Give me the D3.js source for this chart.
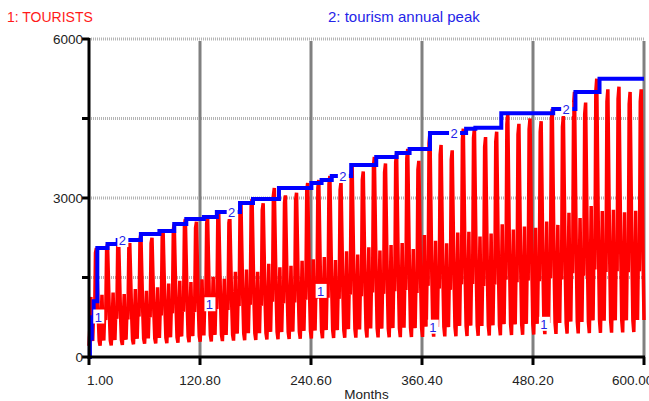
<!DOCTYPE html>
<html>
<head>
<meta charset="utf-8">
<script src="https://cdn.jsdelivr.net/npm/d3@7"></script>
<style>
  body { margin: 0; background: #fff; }
  svg { display: block; font-family: "Liberation Sans", Arial, sans-serif; }
</style>
</head>
<body>
<svg id="chart" width="649" height="401"></svg>
<script>
// annual peak of TOURISTS per year (50 years of 12 months)
const redPeak = [2057, 2132, 2208, 2150, 2320, 2250, 2377, 2509, 2604, 2550,
  2642, 2736, 2650, 2906, 2981, 2900, 3189, 3050, 3100, 3283,
  3340, 3415, 3300, 3623, 3500, 3774, 3650, 3849, 3925, 3700,
  4226, 4000, 3900, 4308, 4326, 4150, 4250, 4598, 4400, 4500,
  4450, 4679, 4550, 5000, 4800, 5251, 5050, 5100, 5000, 5050];
// off-season floor per year
const redMin = [210, 215, 220, 230, 240, 250, 255, 260, 270, 280,
  290, 295, 300, 310, 315, 320, 330, 335, 340, 345,
  350, 355, 360, 362, 365, 368, 370, 372, 375, 378,
  380, 385, 388, 390, 395, 400, 405, 410, 415, 420,
  425, 430, 435, 440, 445, 450, 455, 460, 465, 470];
// share of the year's swing reached in each month
const season = [0.0, 0.2, 0.5, 0.15, 0.05, 0.35, 0.25, 0.95, 1.0, 0.65, 0.3, 0.05];

// tourism annual peak (step line)
const peakMonths = [1, 2, 4, 6, 10, 21, 32, 57, 77, 93, 106, 125, 139, 164, 178, 206,
  241, 252, 263, 284, 311, 333, 347, 369, 408, 418, 446, 502, 526, 552, 600];
const peakLevels = [0, 350, 750, 1050, 2057, 2132, 2208, 2320, 2377, 2509, 2604, 2642, 2736, 2906, 2981, 3189,
  3283, 3340, 3415, 3623, 3774, 3849, 3925, 4226, 4308, 4326, 4598, 4679, 5000, 5251, 5251];

const xTicks = [1, 120.8, 240.6, 360.4, 480.2, 600];
const yGrid = [1500, 3000, 4500, 6000];
const yLabels = [0, 3000, 6000];
const label1Months = [11, 131, 251, 372, 492];
const label2Months = [37, 155, 275, 395, 516];

const svg = d3.select('#chart');
const x = d3.scaleLinear().domain([1, 600]).range([89, 644]);
const y = d3.scaleLinear().domain([0, 6000]).range([357, 39]);

const tourists = d3.range(1, 601).map(m => {
  const k = Math.floor((m - 1) / 12), i = (m - 1) % 12;
  return { m, v: redMin[k] + (redPeak[k] - redMin[k]) * season[i] };
});
const peaks = peakMonths.map((m, i) => ({ m, v: peakLevels[i] }));

// grid
svg.append('g').selectAll('line')
  .data(yGrid)
  .join('line')
  .attr('x1', x(1)).attr('x2', x(600))
  .attr('y1', d => y(d)).attr('y2', d => y(d))
  .attr('stroke', '#b4b4b4')
  .attr('stroke-width', 3)
  .attr('stroke-dasharray', '1,1');

svg.append('g').selectAll('line')
  .data(xTicks.slice(1))
  .join('line')
  .attr('x1', d => x(d)).attr('x2', d => x(d))
  .attr('y1', y(6000) + 2).attr('y2', y(0))
  .attr('stroke', '#808080')
  .attr('stroke-width', 3);

// series
svg.append('path')
  .datum(tourists)
  .attr('fill', 'none')
  .attr('stroke', '#ff0000')
  .attr('stroke-width', 3.5)
  .attr('d', d3.line().x(d => x(d.m)).y(d => y(d.v)));

svg.append('path')
  .datum(peaks)
  .attr('fill', 'none')
  .attr('stroke', '#0000ff')
  .attr('stroke-width', 4)
  .attr('d', d3.line().curve(d3.curveStepAfter).x(d => x(d.m)).y(d => y(d.v)));

// series labels
const valueAt = (arr, m) => {
  let v = arr[0].v;
  arr.forEach(d => { if (d.m <= m) v = d.v; });
  return v;
};
const seriesLabels = label1Months.map(m => ({ t: '1', m, v: valueAt(tourists, m) }))
  .concat(label2Months.map(m => ({ t: '2', m, v: valueAt(peaks, m) })));

const lab = svg.append('g').selectAll('g')
  .data(seriesLabels)
  .join('g')
  .attr('transform', d => `translate(${x(d.m)},${y(d.v)})`);
lab.append('rect')
  .attr('x', -5).attr('y', -7).attr('width', 11).attr('height', 14)
  .attr('fill', '#fff');
lab.append('text')
  .attr('text-anchor', 'middle')
  .attr('dy', 5)
  .style('font-size', '13px')
  .style('fill', '#2424e8')
  .text(d => d.t);

// axes
svg.append('line')
  .attr('x1', x(1)).attr('x2', x(1))
  .attr('y1', y(6000) - 1).attr('y2', y(0) + 2)
  .attr('stroke', '#000').attr('stroke-width', 3);
svg.append('line')
  .attr('x1', x(1) - 7).attr('x2', x(600) + 1)
  .attr('y1', y(0)).attr('y2', y(0))
  .attr('stroke', '#000').attr('stroke-width', 3);

svg.append('g').selectAll('line')
  .data(yGrid)
  .join('line')
  .attr('x1', x(1) - 7).attr('x2', x(1))
  .attr('y1', d => y(d)).attr('y2', d => y(d))
  .attr('stroke', '#000').attr('stroke-width', 3);

svg.append('g').selectAll('line')
  .data(xTicks)
  .join('line')
  .attr('x1', d => x(d)).attr('x2', d => x(d))
  .attr('y1', y(0)).attr('y2', y(0) + 8)
  .attr('stroke', '#000').attr('stroke-width', 3);

svg.append('g').selectAll('text')
  .data(yLabels)
  .join('text')
  .attr('x', x(1) - 6)
  .attr('y', d => y(d) + 5)
  .attr('text-anchor', 'end')
  .style('font-size', '13.5px')
  .style('fill', '#222')
  .text(d => d);

// first label starts at the axis, last one is pulled left so it stays mostly in view
const last = xTicks.length - 1;
svg.append('g').selectAll('text')
  .data(xTicks)
  .join('text')
  .attr('x', (d, i) => i === 0 ? x(d) - 2 : i === last ? x(d) - 32 : x(d))
  .attr('y', 385)
  .attr('text-anchor', (d, i) => i === 0 || i === last ? 'start' : 'middle')
  .style('font-size', '13.5px')
  .style('fill', '#222')
  .text(d => d.toFixed(2));

svg.append('text')
  .attr('x', (x(1) + x(600)) / 2)
  .attr('y', 399)
  .attr('text-anchor', 'middle')
  .style('font-size', '13.5px')
  .style('fill', '#222')
  .text('Months');

// legend
svg.append('text')
  .attr('x', 7).attr('y', 22)
  .style('font-size', '14px')
  .style('fill', '#ff1a1a')
  .text('1: TOURISTS');
svg.append('text')
  .attr('x', 328).attr('y', 22)
  .style('font-size', '15px')
  .style('fill', '#2424e8')
  .text('2: tourism annual peak');
</script>
</body>
</html>
